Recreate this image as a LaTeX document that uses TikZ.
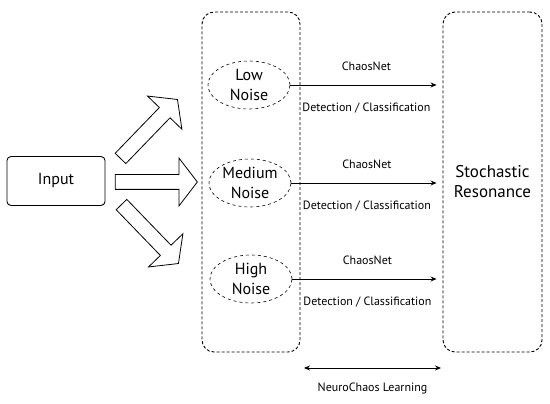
\documentclass[tikz,border=0pt]{standalone}
\usepackage{fontspec}
\setmainfont{PT Sans}
\usetikzlibrary{arrows.meta,shapes.geometric,shapes.arrows,calc}

\tikzset{
  panel/.style={draw, densely dashed, line width=0.9pt, rounded corners=12pt},
  noise/.style={draw, dashed, ellipse, line width=0.6pt, inner sep=0pt,
    minimum width=82pt, minimum height=48pt, align=center,
    font=\fontsize{16}{20}\selectfont},
  bigarrow/.style={draw, line width=0.8pt, single arrow, inner sep=0pt, inner ysep=7pt,
    single arrow head extend=16.5pt, single arrow tip angle=105,
    single arrow head indent=0pt, minimum height=82pt},
  flow/.style={-{Stealth[length=6pt,width=5pt]}, line width=0.8pt},
  twoway/.style={{Stealth[length=6pt,width=5pt]}-{Stealth[length=6pt,width=5pt]}, line width=0.8pt},
  tag/.style={font=\fontsize{12}{14}\selectfont, inner sep=1pt},
}

\begin{document}
\begin{tikzpicture}[x=1pt, y=-1pt]
  \useasboundingbox (0,0) rectangle (550,404);

  % ---- Input ----
  \node[draw, rounded corners=4pt, line width=0.9pt, minimum width=98pt, minimum height=49pt,
    font=\fontsize{16}{19}\selectfont] (input) at (56,181) {Input};

  % ---- Block arrows (up, middle, down) ----
  \node[bigarrow, rotate=46] (up) at (147,131) {};
  \node[bigarrow] (mid) at (153.5,182) {};
  \node[bigarrow, rotate=-46] (down) at (148,232) {};

  % ---- Dashed panels ----
  \node[panel, minimum width=98pt, minimum height=340pt] (noisebox) at (251,182) {};
  \node[panel, minimum width=99pt, minimum height=340pt, align=center,
    font=\fontsize{17}{20}\selectfont] (resbox) at (492.5,182) {Stochastic\\Resonance};

  % ---- Noise levels ----
  \node[noise] (low) at (249,85) {Low\\Noise};
  \node[noise] (medium) at (250,183) {Medium\\Noise};
  \node[noise] (high) at (251,279) {High\\Noise};

  % ---- ChaosNet arrows ----
  \foreach \nm/\k in {low/1, medium/2, high/3} {
    \draw[flow, shorten >=6pt] (\nm.east) -- (\nm.east -| resbox.west)
      node[tag, midway, above=13pt] (cn\k) {ChaosNet}
      node[tag, midway, below=17pt] (dc\k) {Detection / Classification};
  }

  % ---- NeuroChaos Learning ----
  \coordinate (ncA) at (304,368);
  \coordinate (ncB) at (441,368);
  \draw[twoway] (ncA) -- (ncB) node[tag, midway, below=14pt] (ncl) {NeuroChaos Learning};

\end{tikzpicture}
\end{document}
